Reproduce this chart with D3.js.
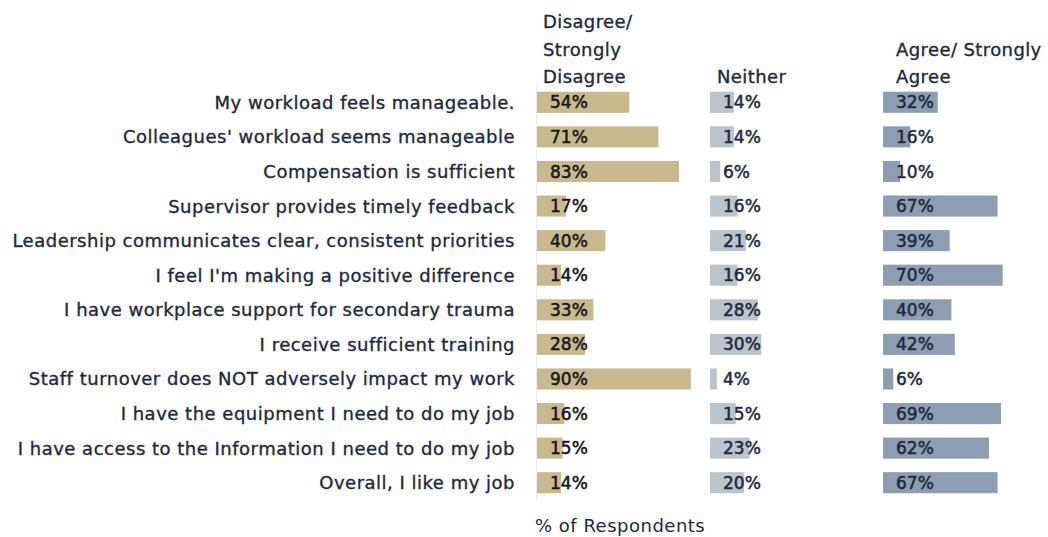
<!DOCTYPE html>
<html>
<head>
<meta charset="utf-8">
<script src="https://cdn.jsdelivr.net/npm/d3@7"></script>
<style>
  html, body { margin: 0; padding: 0; background: #fff; }
  svg { display: block; font-family: "DejaVu Sans", sans-serif; }
  .thick { stroke-width: 0.35px; paint-order: stroke; }
</style>
</head>
<body>
<svg id="chart" width="1048" height="537"></svg>
<script>
// Survey statements, top to bottom
const statements = [
  "My workload feels manageable.",
  "Colleagues' workload seems manageable",
  "Compensation is sufficient ",
  "Supervisor provides timely feedback",
  "Leadership communicates clear, consistent priorities",
  "I feel I'm making a positive difference",
  "I have workplace support for secondary trauma",
  "I receive sufficient training",
  "Staff turnover does NOT adversely impact my work",
  "I have the equipment I need to do my job",
  "I have access to the Information I need to do my job",
  "Overall, I like my job"
];

// Response shares (% of respondents)
const disagree = [54, 71, 83, 17, 40, 14, 33, 28, 90, 16, 15, 14];
const neither  = [14, 14, 6, 16, 21, 16, 28, 30, 4, 15, 23, 20];
const agree    = [32, 16, 10, 67, 39, 70, 40, 42, 6, 69, 62, 67];

// Column headings (one line per entry)
const headDisagree = ["Disagree/", "Strongly", "Disagree"];
const headNeither  = ["Neither"];
const headAgree    = ["Agree/ Strongly", "Agree"];

const axisTitle = "% of Respondents";

const svg = d3.select("#chart");
const ink = "#1c2a3d";

const columns = [
  { key: "disagree", values: disagree, head: headDisagree, x0: 537, headPad: 6,  fill: "#c9b98f", labelPad: 13 },
  { key: "neither",  values: neither,  head: headNeither,  x0: 710, headPad: 7,  fill: "#bac4cc", labelPad: 13 },
  { key: "agree",    values: agree,    head: headAgree,    x0: 883, headPad: 13, fill: "#8d9eb2", labelPad: 13 }
];

const y = d3.scaleBand()
  .domain(statements)
  .range([85, 500])
  .paddingInner(0.39)
  .paddingOuter(0.195);

const x = d3.scaleLinear().domain([0, 100]).range([0, 171]);

// faint baseline at the start of the first column
svg.append("line")
  .attr("x1", 536.5).attr("x2", 536.5)
  .attr("y1", y.range()[0]).attr("y2", y.range()[1])
  .attr("stroke", "#ececec").attr("stroke-width", 1);

// statement labels
svg.append("g").selectAll("text")
  .data(statements)
  .join("text")
  .attr("class", "thick")
  .attr("x", 515)
  .attr("y", d => y(d) + y.bandwidth() / 2)
  .attr("dy", "0.36em")
  .attr("text-anchor", "end")
  .attr("font-size", 18)
  .attr("letter-spacing", 0.5)
  .attr("fill", ink)
  .attr("stroke", ink)
  .text(d => d);

columns.forEach(col => {
  const g = svg.append("g").attr("transform", `translate(${col.x0},0)`);

  // heading lines, bottom-aligned
  const n = col.head.length;
  g.selectAll("text.head")
    .data(col.head)
    .join("text")
    .attr("class", "head thick")
    .attr("x", col.headPad)
    .attr("y", (d, i) => 83 - (n - 1 - i) * 27.5)
    .attr("font-size", 18)
    .attr("letter-spacing", 0.4)
    .attr("fill", ink)
    .attr("stroke", ink)
    .text(d => d);

  g.selectAll("rect")
    .data(col.values)
    .join("rect")
    .attr("x", 0)
    .attr("y", (d, i) => y(statements[i]))
    .attr("width", d => x(d))
    .attr("height", y.bandwidth())
    .attr("fill", col.fill);

  const valInk = col.key === "disagree" ? "#151515" : ink;
  g.selectAll("text.val")
    .data(col.values)
    .join("text")
    .attr("class", "val thick")
    .attr("x", col.labelPad)
    .attr("y", (d, i) => y(statements[i]) + y.bandwidth() / 2)
    .attr("dy", "0.36em")
    .attr("font-size", 17)
    .attr("fill", valInk)
    .attr("stroke", valInk)
    .style("stroke-width", "0.5px")
    .text(d => d + "%");
});

svg.append("text")
  .attr("x", 535)
  .attr("y", 532)
  .attr("font-size", 18)
  .attr("letter-spacing", 0.5)
  .attr("fill", ink)
  .text(axisTitle);
</script>
</body>
</html>
